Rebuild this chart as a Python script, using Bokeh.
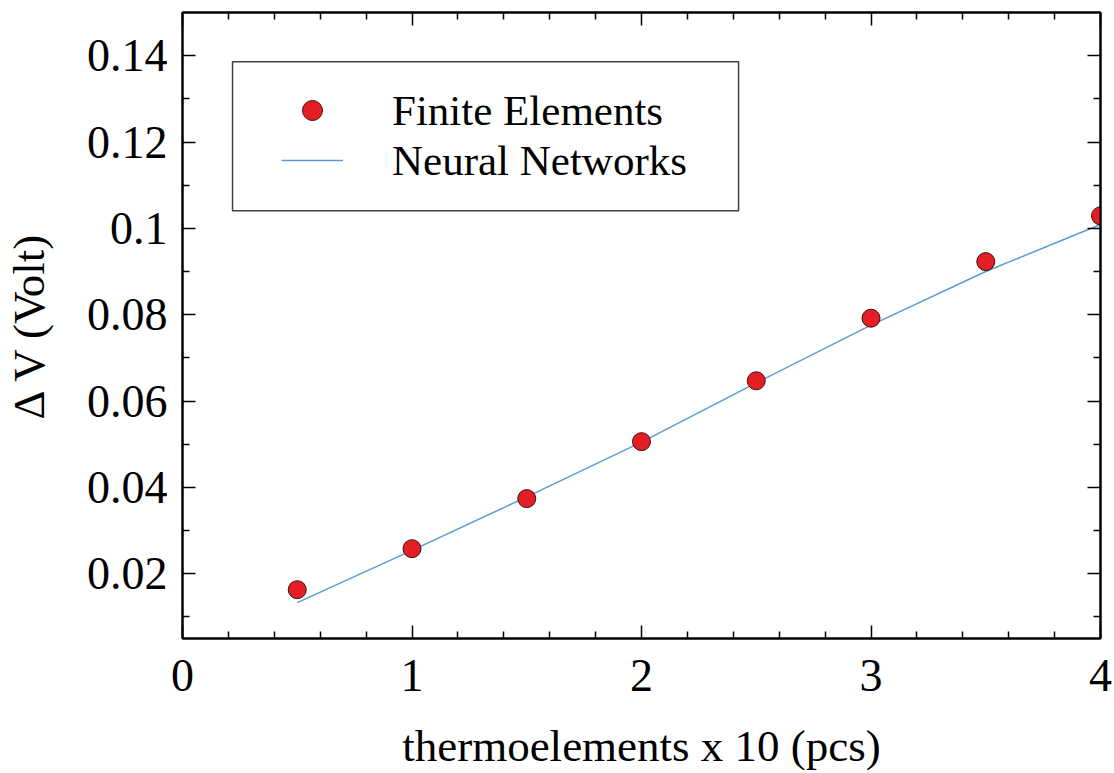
from bokeh.plotting import figure
from bokeh.models import (LinearAxis, FixedTicker, Legend, LegendItem,
                          BoxAnnotation, Range1d)
from bokeh.embed import file_html
from bokeh.resources import INLINE

# Output voltage difference versus number of thermoelements (x 10 pcs)
x_pcs = [0.5, 1.0, 1.5, 2.0, 2.5, 3.0, 3.5, 4.0]
fe_volt = [0.0163, 0.0258, 0.0374, 0.0506, 0.0647, 0.0792, 0.0923, 0.1029]
nn_volt = [0.0133, 0.0254, 0.0378, 0.0505, 0.0642, 0.0776, 0.0900, 0.1009]

x_ticks = [0, 1, 2, 3, 4]
x_tick_labels = ["0", "1", "2", "3", "4"]
x_minor = [0.2, 0.4, 0.6, 0.8, 1.2, 1.4, 1.6, 1.8, 2.2, 2.4, 2.6, 2.8,
           3.2, 3.4, 3.6, 3.8]
y_ticks = [0.02, 0.04, 0.06, 0.08, 0.10, 0.12, 0.14]
y_tick_labels = ["0.02", "0.04", "0.06", "0.08", "0.1", "0.12", "0.14"]
y_minor = [0.01, 0.03, 0.05, 0.07, 0.09, 0.11, 0.13]

X_RANGE = (0, 4)
Y_RANGE = (0.005, 0.15)

# legend frame, in data units
LEGEND_BOX = dict(left=0.218, right=2.423, top=0.1386, bottom=0.1041)

FONT = "Liberation Serif"

p = figure(width=1114, height=773,
           x_range=Range1d(*X_RANGE), y_range=Range1d(*Y_RANGE),
           x_axis_location=None, y_axis_location=None,
           output_backend="svg", toolbar_location=None,
           min_border_left=182, min_border_right=14,
           min_border_top=12, min_border_bottom=135)
p.background_fill_color = "white"
p.border_fill_color = "white"
p.outline_line_color = "black"
p.outline_line_width = 2
p.xgrid.grid_line_color = None
p.ygrid.grid_line_color = None

ln = p.line(x_pcs, nn_volt, line_color="#5b9bd5", line_width=1.5)
sc = p.scatter(x_pcs, fe_volt, size=18, fill_color="#e31e24",
               line_color="#3a1010", line_width=1)

x_ticker = FixedTicker(ticks=x_ticks, minor_ticks=x_minor)
y_ticker = FixedTicker(ticks=y_ticks, minor_ticks=y_minor)

bottom_axis = LinearAxis(ticker=x_ticker,
                         major_label_overrides=dict(zip(x_ticks, x_tick_labels)))
left_axis = LinearAxis(ticker=y_ticker,
                       major_label_overrides=dict(zip(y_ticks, y_tick_labels)))
# mirrored tick marks on the top and right edges, without labels
top_axis = LinearAxis(ticker=x_ticker,
                      major_label_overrides={t: "" for t in x_ticks})
right_axis = LinearAxis(ticker=y_ticker,
                        major_label_overrides={t: "" for t in y_ticks})
p.add_layout(bottom_axis, "below")
p.add_layout(left_axis, "left")
p.add_layout(top_axis, "above")
p.add_layout(right_axis, "right")

for ax in [bottom_axis, left_axis, top_axis, right_axis]:
    ax.axis_line_color = "black"
    ax.axis_line_width = 2
    ax.major_tick_in = 13
    ax.major_tick_out = 0
    ax.minor_tick_in = 7
    ax.minor_tick_out = 0
    ax.major_tick_line_color = "black"
    ax.minor_tick_line_color = "black"
    ax.major_tick_line_width = 1.5
    ax.minor_tick_line_width = 1.5
    ax.major_label_text_font = FONT
    ax.major_label_text_font_size = "46px"
    ax.major_label_text_color = "black"

for ax in [top_axis, right_axis]:
    ax.major_label_text_font_size = "1px"
    ax.major_label_standoff = 0

bottom_axis.major_label_standoff = 21
left_axis.major_label_standoff = 15

bottom_axis.axis_label = "thermoelements x 10 (pcs)"
left_axis.axis_label = "\u0394 V (Volt)"
for ax in [bottom_axis, left_axis]:
    ax.axis_label_text_font = FONT
    ax.axis_label_text_font_size = "45px"
    ax.axis_label_text_font_style = "normal"
    ax.axis_label_text_color = "black"
bottom_axis.axis_label_standoff = 27
left_axis.axis_label_standoff = 30

box = BoxAnnotation(fill_color="white", fill_alpha=1.0,
                    line_color="#404040", line_alpha=1.0, line_width=1.5,
                    **LEGEND_BOX)
p.add_layout(box)

legend = Legend(items=[LegendItem(label="Finite Elements", renderers=[sc]),
                       LegendItem(label="Neural Networks", renderers=[ln])],
                location=(99, 453), orientation="vertical",
                padding=0, spacing=0, margin=0,
                glyph_width=62, glyph_height=50, label_height=50,
                label_standoff=49,
                label_text_font=FONT, label_text_font_size="43px",
                label_text_color="black",
                border_line_color=None, background_fill_alpha=0)
p.add_layout(legend)

open("out.html", "w").write(file_html(p, INLINE))
